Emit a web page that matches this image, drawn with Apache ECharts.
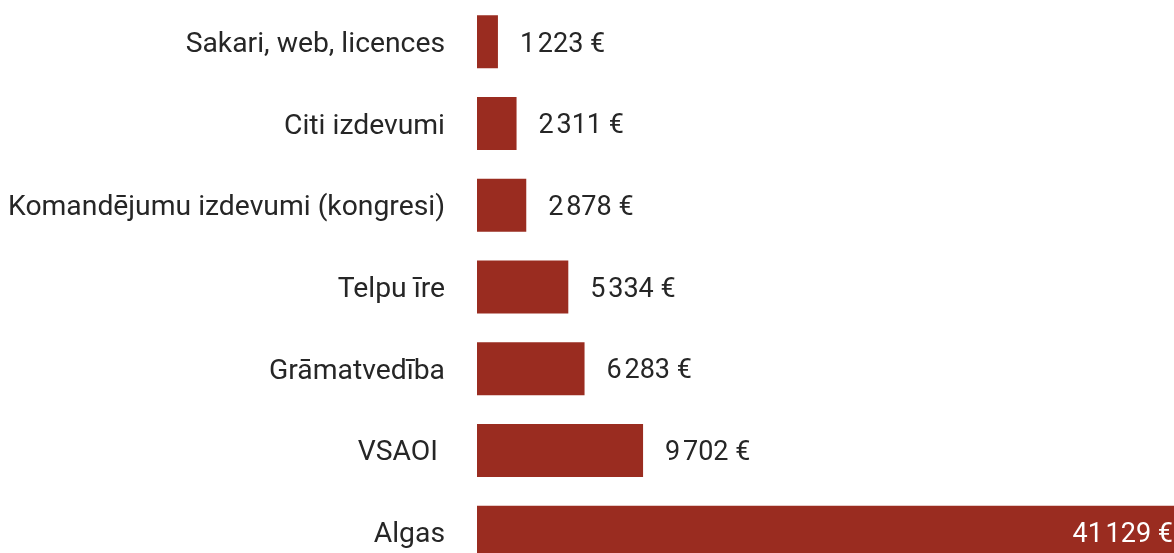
<!DOCTYPE html>
<html style="height: 100%">
<head>
<meta charset="utf-8">
<title>Izdevumi</title>
<script src="https://cdn.jsdelivr.net/npm/echarts@6/dist/echarts.min.js"></script>
</head>
<body style="height: 100%; margin: 0; background: #fff">
	<div id="container" style="width: 1174px; height: 553px"></div>
	<script type="text/javascript">
		var categories = ['Sakari, web, licences', 'Citi izdevumi', 'Komandējumu izdevumi (kongresi)',
			'Telpu īre', 'Grāmatvedība', 'VSAOI ', 'Algas'];
		var values = [1223, 2311, 2878, 5334, 6283, 9702, 41129];

		var myChart = echarts.init(document.getElementById('container'));

		function fmt(v) {
			return String(v).replace(/\B(?=(\d{3})+(?!\d))/g, '\u200A') + ' €';
		}

		var font = 'Roboto';

		var option = {
			animation: false,
			grid: {
				left: 477,
				width: 704,
				top: 1,
				height: 572,
				containLabel: false,
				outerBoundsMode: 'none'
			},
			xAxis: {
				type: 'value',
				min: 0,
				max: 41129,
				show: false
			},
			yAxis: {
				type: 'category',
				inverse: true,
				data: categories,
				axisLine: { show: false },
				axisTick: { show: false },
				splitLine: { show: false },
				axisLabel: {
					margin: 32,
					formatter: function (v) { return '{t|' + v + '}'; },
					rich: {
						t: {
							fontFamily: font,
							fontSize: 28.3,
							color: '#262626',
							padding: [6, 0, 0, 0]
						}
					}
				}
			},
			series: [{
				type: 'bar',
				data: values.map(function (v, i) {
					if (i === values.length - 1) {
						return {
							value: v,
							label: {
								position: 'insideRight',
								distance: 8,
								formatter: function (p) { return '{w|' + fmt(p.value) + '}'; }
							}
						};
					}
					return v;
				}),
				barWidth: 53,
				clip: false,
				itemStyle: { color: '#9A2C20' },
				label: {
					show: true,
					position: 'right',
					distance: 22,
					formatter: function (p) { return '{t|' + fmt(p.value) + '}'; },
					rich: {
						t: {
							fontFamily: font,
							fontSize: 27,
							color: '#262626',
							padding: [6, 0, 0, 0]
						},
						w: {
							fontFamily: font,
							fontSize: 27,
							color: '#fff',
							padding: [6, 0, 0, 0]
						}
					}
				}
			}]
		};

		myChart.setOption(option);
	</script>
</body>
</html>
